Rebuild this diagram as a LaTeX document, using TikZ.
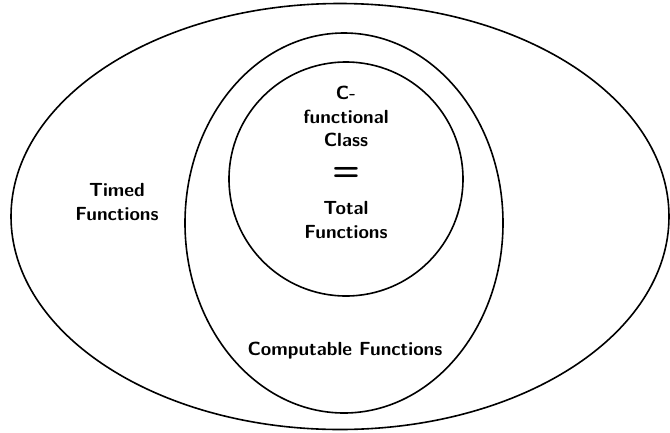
\documentclass[tikz,border=0pt]{standalone}
\usetikzlibrary{shapes.geometric}
\begin{document}
\begin{tikzpicture}[x=1pt,y=-1pt,
  ring/.style={draw=black,line width=1.6pt,ellipse,inner sep=0pt},
  lbl/.style={font=\sffamily\bfseries\fontsize{19}{23.5}\selectfont,align=center,inner sep=0pt}]
\useasboundingbox (0,0) rectangle (670,432);
\node[ring,minimum width=658,minimum height=426] (outer) at (340,216.5) {};
\node[ring,minimum width=318,minimum height=380] (comp) at (344,223) {};
\node[ring,minimum width=234,minimum height=234] (inner) at (346,179) {};
\node[lbl] (timed) at (117,202) {Timed\\Functions};
\node[lbl] (computable) at (345,351) {Computable Functions};
\node[lbl] (cfunc) at (346,116.5) {C-\\functional\\Class};
\node[lbl,font=\sffamily\bfseries\fontsize{32}{32}\selectfont] (eq) at (346,174) {=};
\node[lbl] (total) at (346,220) {Total\\Functions};
\end{tikzpicture}
\end{document}
